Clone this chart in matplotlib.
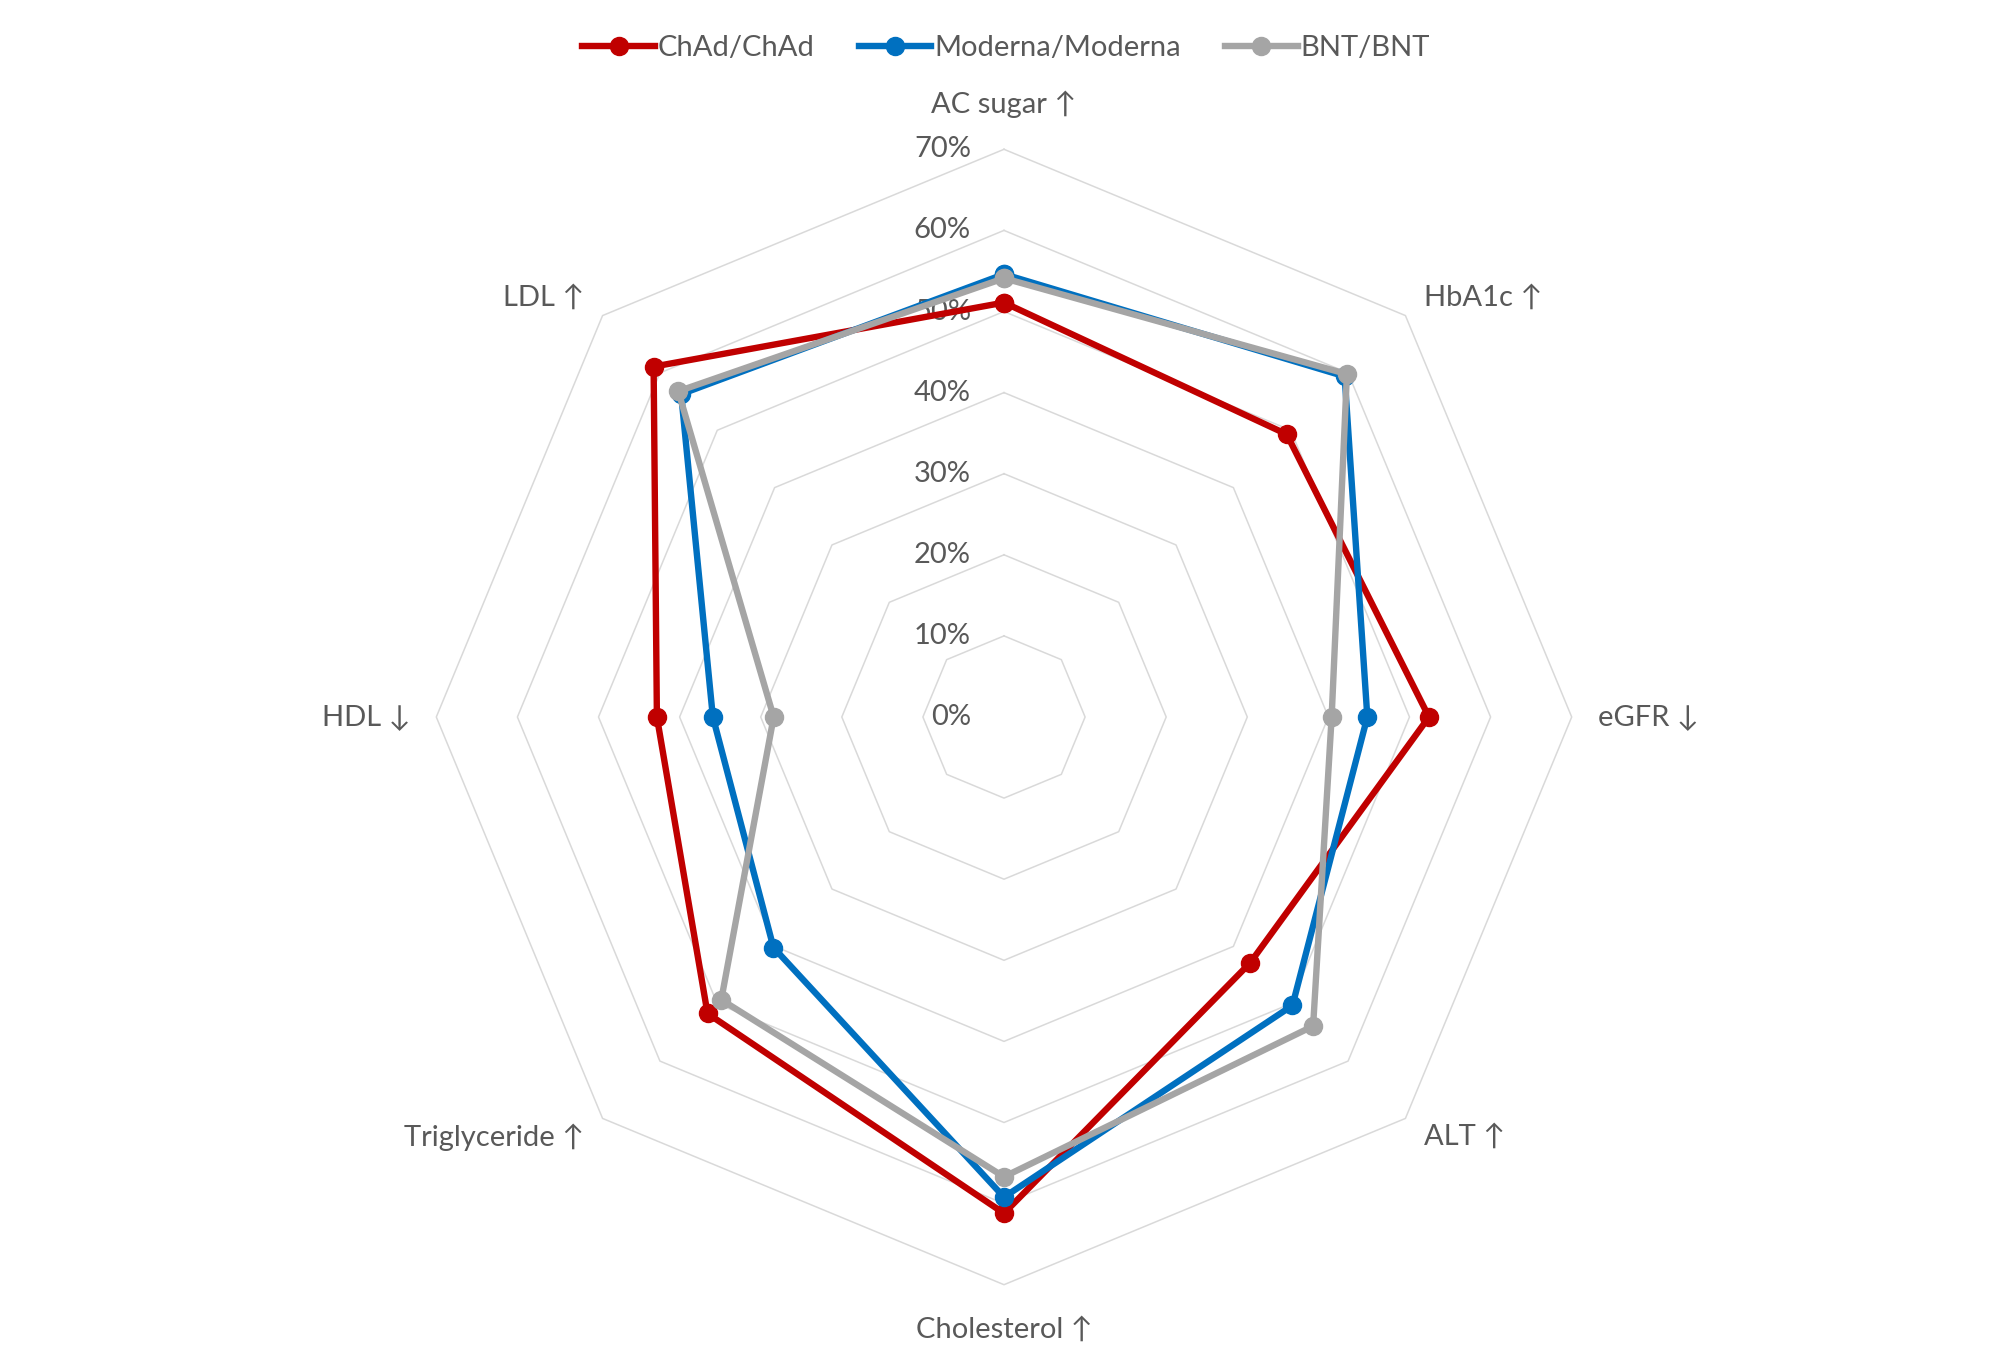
import numpy as np
import matplotlib
matplotlib.use('Agg')
import matplotlib.pyplot as plt

categories = ['AC sugar ↑', 'HbA1c ↑', 'eGFR ↓', 'ALT ↑',
              'Cholesterol ↑', 'Triglyceride ↑', 'HDL ↓', 'LDL ↑']
series_names = ['ChAd/ChAd', 'Moderna/Moderna', 'BNT/BNT']
chad = [51.1, 49.3, 52.4, 42.9, 61.2, 51.7, 42.8, 61.1]
moderna = [54.6, 59.4, 44.8, 50.3, 59.2, 40.2, 35.9, 56.3]
bnt = [54.1, 59.8, 40.4, 53.9, 56.7, 49.3, 28.4, 56.8]
ticks = [0, 10, 20, 30, 40, 50, 60, 70]
tick_labels = ['0%', '10%', '20%', '30%', '40%', '50%', '60%', '70%']

colors = ['#C00000', '#0070C0', '#A5A5A5']
text_color = '#595959'
plt.rcParams['font.family'] = ['Lato', 'DejaVu Sans']
fs = 21

W, H = 2008, 1353
cx, cy = 1004, 717       # centre in pixels (from top)
px = 8.11                # pixels per 1%

fig = plt.figure(figsize=(W / 100, H / 100), dpi=100)
ax = fig.add_axes([0, 0, 1, 1])
ax.set_xlim(-cx / px, (W - cx) / px)
ax.set_ylim(-(H - cy) / px, cy / px)
ax.axis('off')

n = len(categories)
theta = np.pi / 2 - 2 * np.pi * np.arange(n) / n
ct, st = np.cos(theta), np.sin(theta)

# octagon grid
for r in ticks[1:]:
    ax.plot(np.append(r * ct, r * ct[0]), np.append(r * st, r * st[0]),
            color='#D9D9D9', lw=1.1, zorder=1)

# tick labels
for r, lab in zip(ticks, tick_labels):
    ax.text(-33 / px, r, lab, ha='right', va='center', fontsize=fs,
            color=text_color)

# category labels
for k, lab in enumerate(categories):
    c, s = ct[k], st[k]
    if abs(c) < 1e-6:
        r = 75.5
        ax.text(r * c, r * s, lab, ha='center', va='center', fontsize=fs,
                color=text_color)
    else:
        r = 73.2
        ha = 'left' if c > 0 else 'right'
        ax.text(r * c, r * s, lab, ha=ha, va='center', fontsize=fs,
                color=text_color)

for name, vals, col in zip(series_names, [chad, moderna, bnt], colors):
    v = np.array(vals)
    ax.plot(np.append(v * ct, v[0] * ct[0]), np.append(v * st, v[0] * st[0]),
            color=col, lw=4.6, marker='o', ms=13, mec=col, mfc=col,
            label=name, zorder=3, solid_joinstyle='round')

leg = fig.legend(loc='center', bbox_to_anchor=(1006 / W, 1 - 48.5 / H), ncol=3,
                 frameon=False, fontsize=fs, handlelength=2.5,
                 handletextpad=0.1, columnspacing=1.5)
for t in leg.get_texts():
    t.set_color(text_color)

fig.savefig('out.png', dpi=100)
